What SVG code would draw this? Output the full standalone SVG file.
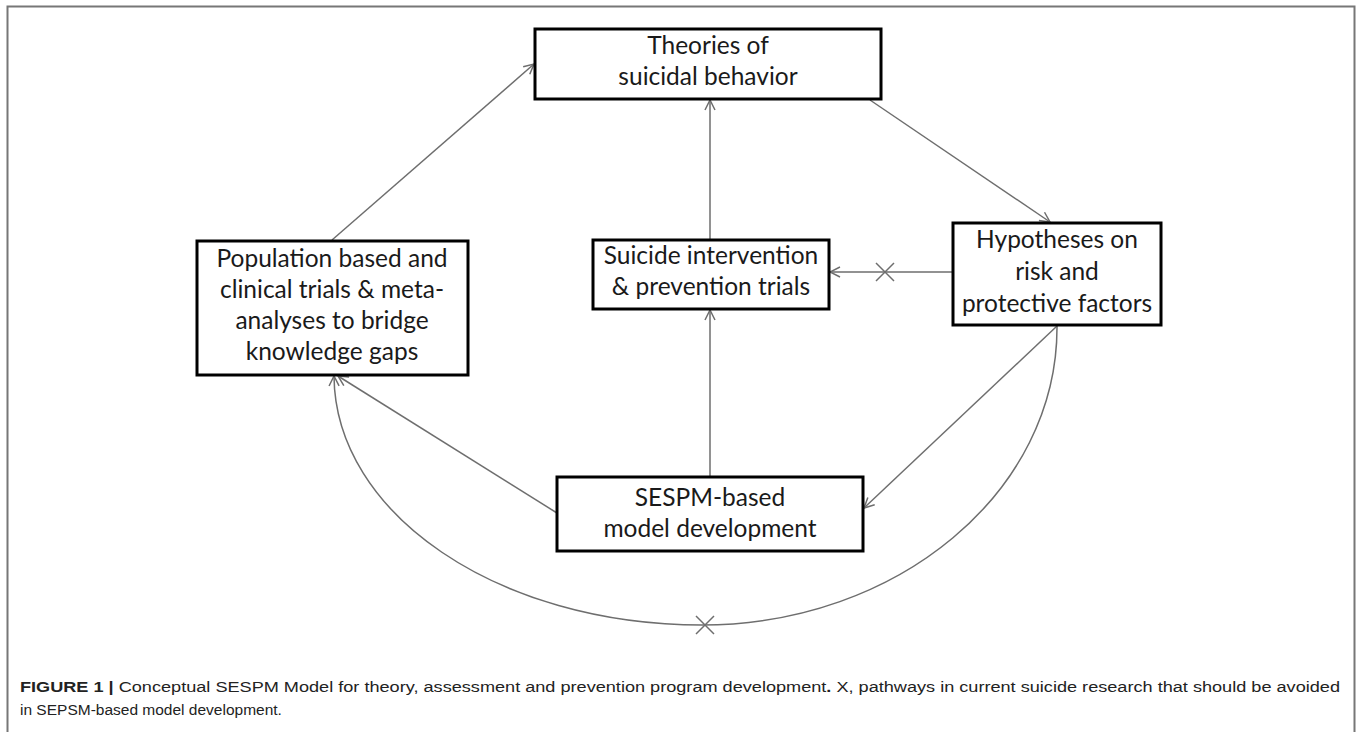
<svg xmlns="http://www.w3.org/2000/svg" width="1358" height="732" viewBox="0 0 1358 732">
<style>
.box{fill:#fff;stroke:#000;stroke-width:3}
.lbl{font-family:Lato,"Open Sans","Liberation Sans",sans-serif;font-size:24.5px;fill:#1a1a1a;text-anchor:middle}
.con{fill:none;stroke:#6e6e6e;stroke-width:1.5}
.cap{font-family:"Liberation Sans",Arial,sans-serif;font-size:15.5px;fill:#222}
</style>
<defs>
<marker id="ah" viewBox="0 0 12 12" refX="11" refY="6" markerWidth="12" markerHeight="12" markerUnits="userSpaceOnUse" orient="auto">
<path d="M1,1 L11,6 L1,11" fill="none" stroke="#6e6e6e" stroke-width="1.5"/>
</marker>
</defs>
<rect x="0" y="0" width="1358" height="732" fill="#fff"/>
<path d="M7.5,740 V6.5 H1354.5 V740" fill="none" stroke="#777" stroke-width="2"/>

<g id="connectors">
<line class="con" x1="332" y1="240" x2="534" y2="64" marker-end="url(#ah)"/>
<line class="con" x1="710" y1="240" x2="710" y2="100" marker-end="url(#ah)"/>
<line class="con" x1="870" y1="100" x2="1050" y2="222" marker-end="url(#ah)"/>
<line class="con" x1="953" y1="272" x2="830" y2="272" marker-end="url(#ah)"/>
<line class="con" x1="1057" y1="326" x2="864" y2="508" marker-end="url(#ah)"/>
<line class="con" x1="710" y1="476" x2="710" y2="310" marker-end="url(#ah)"/>
<line class="con" x1="557" y1="513" x2="338" y2="376" marker-end="url(#ah)"/>
<path class="con" d="M1057,326 C1058,492 897,625 702,625 C498,625 335,514 334,376" marker-end="url(#ah)"/>
<path class="con" d="M876,263 L894,281 M876,281 L894,263"/>
<path class="con" d="M696,616 L714,634 M696,634 L714,616"/>
</g>

<g id="theories">
<rect class="box" x="535" y="29" width="346" height="70"/>
<text class="lbl" x="708" y="54">Theories of</text>
<text class="lbl" x="708" y="85">suicidal behavior</text>
</g>

<g id="population">
<rect class="box" x="197" y="241" width="271" height="134"/>
<text class="lbl" x="332" y="267">Population based and</text>
<text class="lbl" x="332" y="298">clinical trials &amp; meta-</text>
<text class="lbl" x="332" y="329">analyses to bridge</text>
<text class="lbl" x="332" y="360">knowledge gaps</text>
</g>

<g id="intervention">
<rect class="box" x="593" y="240" width="236" height="69"/>
<text class="lbl" x="711" y="264">Suicide intervention</text>
<text class="lbl" x="711" y="295">&amp; prevention trials</text>
</g>

<g id="hypotheses">
<rect class="box" x="953" y="223" width="208" height="102"/>
<text class="lbl" x="1057" y="248">Hypotheses on</text>
<text class="lbl" x="1057" y="280">risk and</text>
<text class="lbl" x="1057" y="312">protective factors</text>
</g>

<g id="sespm">
<rect class="box" x="557" y="477" width="306" height="74"/>
<text class="lbl" x="710" y="506">SESPM-based</text>
<text class="lbl" x="710" y="537">model development</text>
</g>

<g id="caption">
<text class="cap" x="20" y="692" textLength="1320" lengthAdjust="spacingAndGlyphs"><tspan font-weight="bold">FIGURE 1 |</tspan> Conceptual SESPM Model for theory, assessment and prevention program development<tspan font-weight="bold">.</tspan> X, pathways in current suicide research that should be avoided</text>
<text class="cap" x="20" y="715">in SEPSM-based model development.</text>
</g>
</svg>
